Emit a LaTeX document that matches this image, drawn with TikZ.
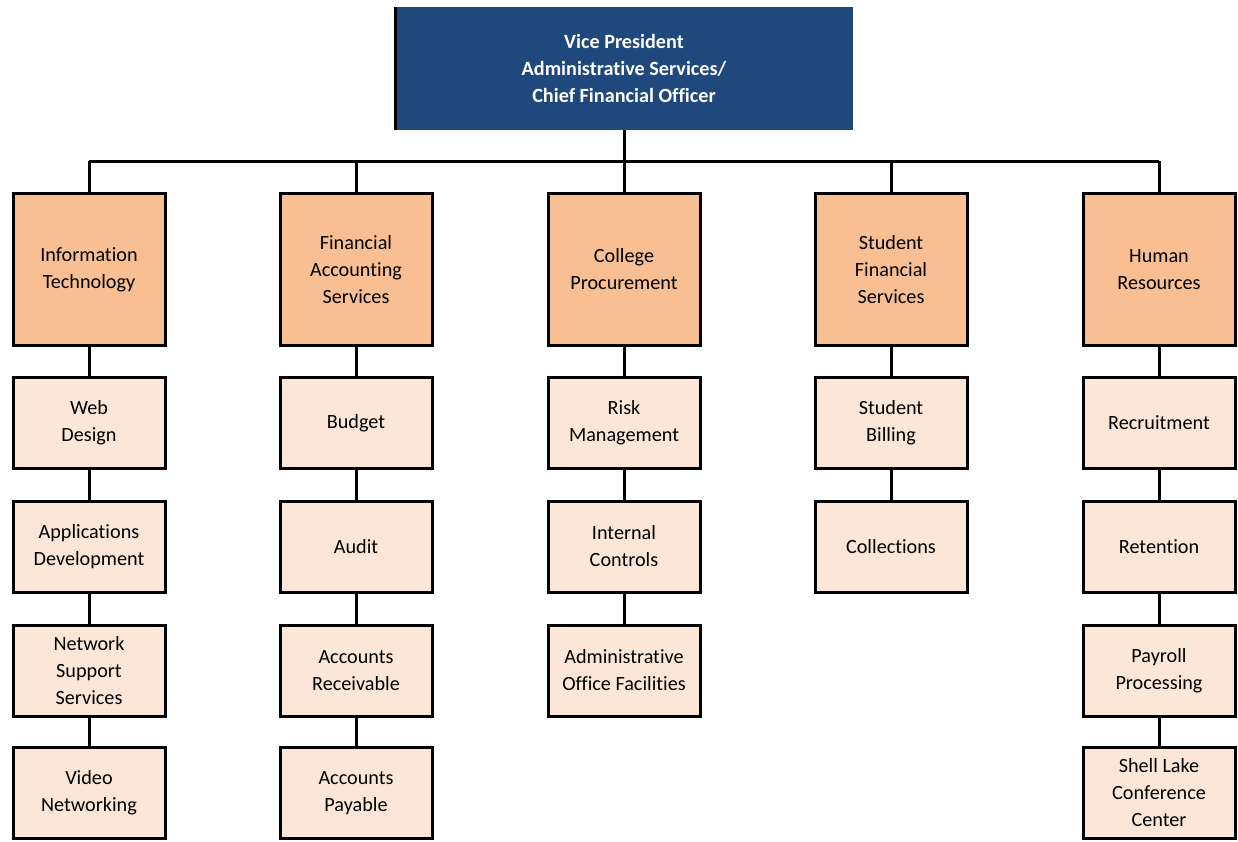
\documentclass[tikz,border=0pt]{standalone}
\usepackage{fontspec}
\setmainfont[Ligatures={NoCommon}]{Carlito}
\definecolor{navy}{HTML}{1F497D}
\definecolor{orangebox}{HTML}{F8BF92}
\definecolor{lightbox}{HTML}{FBE6D7}
\begin{document}
\begin{tikzpicture}[x=1pt,y=-1pt,
  headbox/.style={draw=black,line width=3pt,fill=orangebox,minimum width=152pt,minimum height=152pt,inner sep=0pt,align=center,font=\fontsize{20.2}{27}\selectfont},
  subbox/.style={draw=black,line width=3pt,fill=lightbox,minimum width=152pt,minimum height=91pt,inner sep=0pt,align=center,font=\fontsize{20.2}{27}\selectfont},
  link/.style={draw=black,line width=3pt}]
\useasboundingbox (0,0) rectangle (1238,841);
% top box
\fill[navy] (395,7) rectangle (853,130);
\draw[black,line width=3pt] (395,7) -- (395,130);
\node[text=white,align=center,font=\bfseries\fontsize{20.2}{27}\selectfont] (vp) at (624,68) {Vice President\\Administrative Services/\\Chief Financial Officer};
\coordinate (vpb) at (624,130);
\coordinate (bus) at (624,161);
% heads
\node[headbox] (h1) at (89,269.5) {Information\\Technology};
\node[headbox] (h2) at (356,269.5) {Financial\\Accounting\\Services};
\node[headbox] (h3) at (624,269.5) {College\\Procurement};
\node[headbox] (h4) at (891,269.5) {Student\\Financial\\Services};
\node[headbox] (h5) at (1159,269.5) {Human\\Resources};
% column 1
\node[subbox] (a1) at (89,423) {Web\\Design};
\node[subbox] (a2) at (89,546.5) {Applications\\Development};
\node[subbox] (a3) at (89,670.5) {Network\\Support\\Services};
\node[subbox] (a4) at (89,793) {Video\\Networking};
% column 2
\node[subbox] (b1) at (356,423) {Budget};
\node[subbox] (b2) at (356,546.5) {Audit};
\node[subbox] (b3) at (356,670.5) {Accounts\\Receivable};
\node[subbox] (b4) at (356,793) {Accounts\\Payable};
% column 3
\node[subbox] (c1) at (624,423) {Risk\\Management};
\node[subbox] (c2) at (624,546.5) {Internal\\Controls};
\node[subbox] (c3) at (624,670.5) {Administrative\\Office Facilities};
% column 4
\node[subbox] (d1) at (891,423) {Student\\Billing};
\node[subbox] (d2) at (891,546.5) {Collections};
% column 5
\node[subbox] (e1) at (1159,423) {Recruitment};
\node[subbox] (e2) at (1159,546.5) {Retention};
\node[subbox] (e3) at (1159,670.5) {Payroll\\Processing};
\node[subbox] (e4) at (1159,793) {Shell Lake\\Conference\\Center};
% connectors
\coordinate (t1) at (89,161);
\coordinate (t5) at (1159,161);
\draw[link] (vpb) -- (bus);
\draw[link] (t1) -- (t5);
\foreach \h in {h1,h2,h3,h4,h5} \draw[link] (\h.north |- bus) -- (\h.north);
\draw[link] (h1) -- (a1) (a1) -- (a2) (a2) -- (a3) (a3) -- (a4);
\draw[link] (h2) -- (b1) (b1) -- (b2) (b2) -- (b3) (b3) -- (b4);
\draw[link] (h3) -- (c1) (c1) -- (c2) (c2) -- (c3);
\draw[link] (h4) -- (d1) (d1) -- (d2);
\draw[link] (h5) -- (e1) (e1) -- (e2) (e2) -- (e3) (e3) -- (e4);
\end{tikzpicture}
\end{document}
